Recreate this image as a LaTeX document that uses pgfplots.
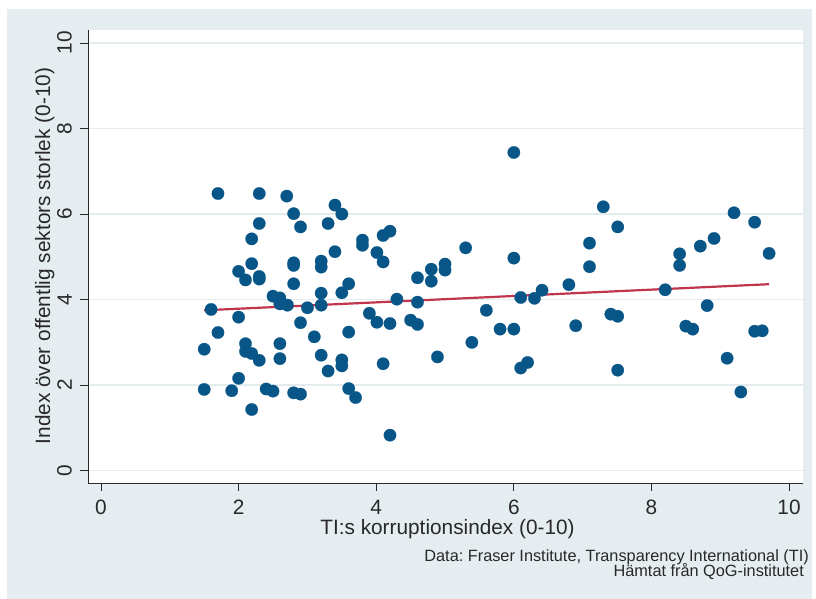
\documentclass[border=0pt]{standalone}
\usepackage{fontspec}
\setmainfont{Liberation Sans}
\usepackage{pgfplots}
\pgfplotsset{compat=1.18}
\definecolor{bg}{RGB}{230,237,240}
\definecolor{gridc}{RGB}{226,235,238}
\definecolor{mk}{RGB}{8,86,135}
\definecolor{fitc}{RGB}{192,52,76}
\definecolor{axc}{RGB}{40,40,40}
\frenchspacing
\begin{document}
\begin{tikzpicture}[x=1bp,y=1bp]
\fill[white] (0,0) rectangle (816,599);
\fill[bg] (7,0) rectangle (812,590);
\begin{axis}[
  at={(88bp,116bp)}, anchor=south west,
  scale only axis, width=715bp, height=453bp,
  xmin=-0.189, xmax=10.203, ymin=-0.288, ymax=10.304,
  axis background/.style={fill=white},
  axis x line*=bottom, axis y line*=left,
  axis line style={axc, line width=0.8bp},
  xtick={0,2,4,6,8,10}, ytick={0,2,4,6,8,10},
  tick align=outside, major tick length=8bp,
  tick style={axc, line width=0.8bp},
  ymajorgrids, grid style={gridc, line width=1.6bp},
  /pgf/number format/assume math mode=true,
  ticklabel style={font=\fontsize{20.8bp}{24bp}\selectfont, text=axc},
  xticklabel style={anchor=north, inner sep=0pt},
  yticklabel style={rotate=90, anchor=south, inner sep=0pt},
  xticklabel shift=9bp, yticklabel shift=8bp,
]
\addplot[only marks, mark=*, mark size=6.2bp, mark options={fill=mk, draw=mk, line width=0.2bp}] coordinates {
(1.50,2.84) (1.50,1.90) (1.60,3.77) (1.70,6.48) (1.70,3.23) (1.90,1.87)
(2.00,4.66) (2.00,3.59) (2.00,2.16) (2.10,4.46) (2.10,2.97) (2.10,2.79)
(2.19,5.42) (2.19,4.84) (2.19,2.74) (2.19,1.43) (2.30,6.48) (2.30,5.78)
(2.30,4.54) (2.30,4.48) (2.30,2.58) (2.40,1.91) (2.50,4.08) (2.50,1.86)
(2.60,4.04) (2.60,3.90) (2.60,2.97) (2.60,2.62) (2.70,6.42) (2.71,3.87)
(2.80,6.01) (2.80,4.86) (2.80,4.80) (2.80,4.37) (2.80,1.82) (2.90,5.70)
(2.90,3.46) (2.90,1.79) (3.00,3.81) (3.10,3.13) (3.20,4.90) (3.20,4.76)
(3.20,4.15) (3.20,3.87) (3.20,2.70) (3.30,5.78) (3.30,2.33) (3.40,6.21)
(3.40,5.12) (3.50,6.00) (3.50,4.16) (3.50,2.59) (3.50,2.45) (3.60,4.37)
(3.60,3.24) (3.60,1.92) (3.70,1.71) (3.80,5.39) (3.80,5.27) (3.90,3.68)
(4.01,5.10) (4.01,3.47) (4.10,5.50) (4.10,4.88) (4.10,2.50) (4.20,5.60)
(4.20,3.44) (4.20,0.83) (4.30,4.01) (4.50,3.52) (4.60,4.51) (4.60,3.94)
(4.60,3.42) (4.80,4.71) (4.80,4.43) (4.89,2.66) (5.00,4.83) (5.00,4.69)
(5.30,5.21) (5.39,3.00) (5.60,3.75) (5.80,3.31) (6.00,7.44) (6.00,4.97)
(6.00,3.31) (6.10,4.05) (6.10,2.40) (6.20,2.53) (6.30,4.03) (6.41,4.22)
(6.80,4.35) (6.90,3.39) (7.10,5.32) (7.10,4.77) (7.30,6.17) (7.41,3.66)
(7.51,5.70) (7.51,3.61) (7.51,2.35) (8.20,4.23) (8.41,5.07) (8.41,4.80)
(8.50,3.38) (8.60,3.31) (8.71,5.25) (8.81,3.86) (8.91,5.43) (9.10,2.63)
(9.20,6.03) (9.30,1.84) (9.50,5.81) (9.50,3.26) (9.61,3.27) (9.71,5.08)
};
\addplot[fitc, line width=2.2bp] coordinates {(1.50,3.75) (9.71,4.36)};
\end{axis}
\node[anchor=base, font=\fontsize{20.8bp}{24bp}\selectfont, text=axc] at (447.5,64) {TI:s korruptionsindex (0-10)};
\node[anchor=base, rotate=90, font=\fontsize{20.8bp}{24bp}\selectfont, text=axc] at (50,343) {Index över offentlig sektors storlek (0-10)};
\node[anchor=base east, inner sep=0pt, font=\fontsize{16.3bp}{19bp}\selectfont, text=axc] at (809,37.3) {Data: Fraser Institute, Transparency International (TI)};
\node[anchor=base east, inner sep=0pt, font=\fontsize{16.3bp}{19bp}\selectfont, text=axc] at (804,22) {Hämtat från QoG-institutet};
\end{tikzpicture}
\end{document}
